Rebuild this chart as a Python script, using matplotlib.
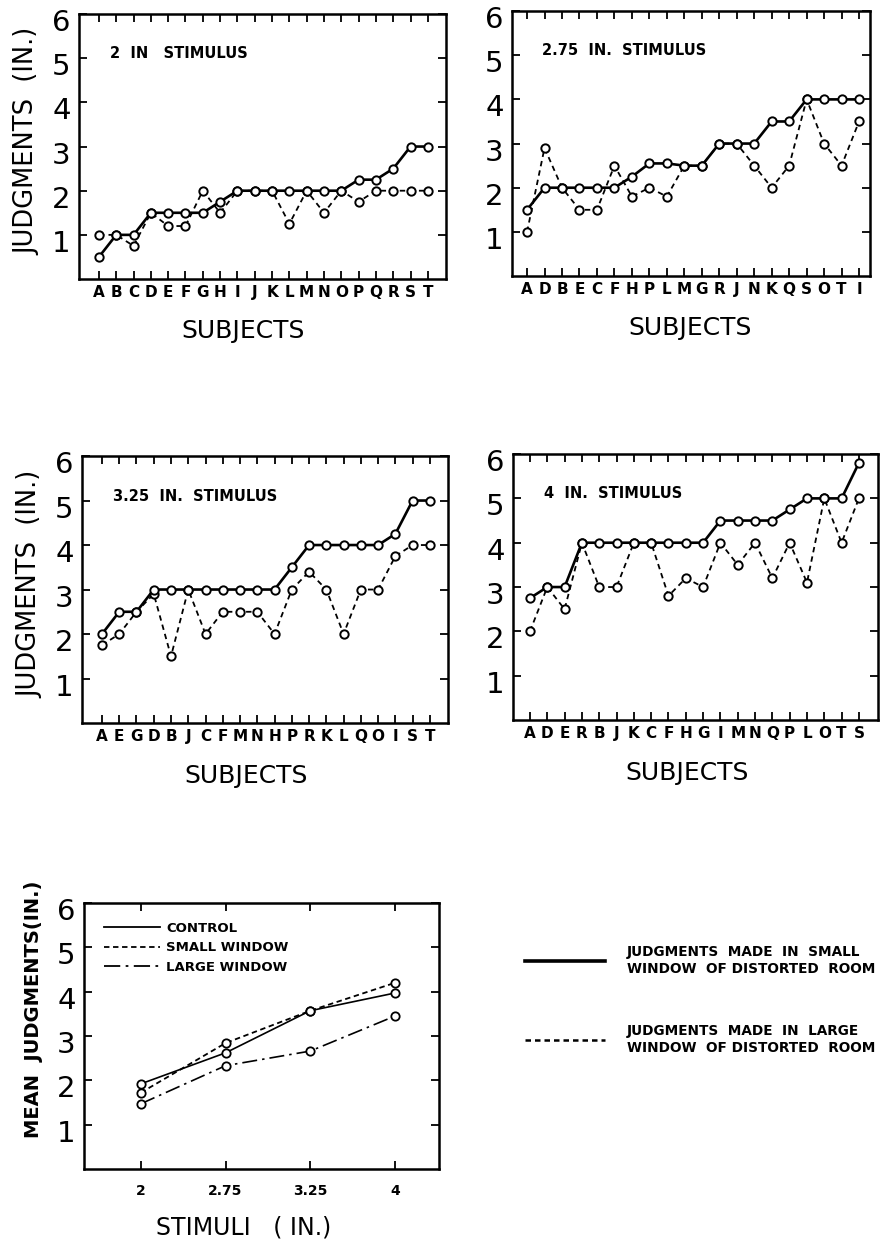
import matplotlib
matplotlib.use("Agg")
import matplotlib.pyplot as plt
import matplotlib.transforms as mtransforms
from matplotlib.lines import Line2D
import numpy as np

plt.rcParams["font.family"] = ["DejaVu Sans"]

# judgments (in.) per subject, ordered as on the x axis
subjects_2 = list("ABCDEFGHIJKLMNOPQRST")
small_2 = [0.5, 1.0, 1.0, 1.5, 1.5, 1.5, 1.5, 1.75, 2.0, 2.0, 2.0, 2.0, 2.0, 2.0, 2.0, 2.25, 2.25, 2.5, 3.0, 3.0]
large_2 = [1.0, 1.0, 0.75, 1.5, 1.2, 1.2, 2.0, 1.5, 2.0, 2.0, 2.0, 1.25, 2.0, 1.5, 2.0, 1.75, 2.0, 2.0, 2.0, 2.0]

subjects_275 = "A D B E C F H P L M G R J N K Q S O T I".split()
small_275 = [1.5, 2.0, 2.0, 2.0, 2.0, 2.0, 2.25, 2.55, 2.55, 2.5, 2.5, 3.0, 3.0, 3.0, 3.5, 3.5, 4.0, 4.0, 4.0, 4.0]
large_275 = [1.0, 2.9, 2.0, 1.5, 1.5, 2.5, 1.8, 2.0, 1.8, 2.5, 2.5, 3.0, 3.0, 2.5, 2.0, 2.5, 4.0, 3.0, 2.5, 3.5]

subjects_325 = "A E G D B J C F M N H P R K L Q O I S T".split()
small_325 = [2.0, 2.5, 2.5, 3.0, 3.0, 3.0, 3.0, 3.0, 3.0, 3.0, 3.0, 3.5, 4.0, 4.0, 4.0, 4.0, 4.0, 4.25, 5.0, 5.0]
large_325 = [1.75, 2.0, 2.5, 2.9, 1.5, 3.0, 2.0, 2.5, 2.5, 2.5, 2.0, 3.0, 3.4, 3.0, 2.0, 3.0, 3.0, 3.75, 4.0, 4.0]

subjects_4 = "A D E R B J K C F H G I M N Q P L O T S".split()
small_4 = [2.75, 3.0, 3.0, 4.0, 4.0, 4.0, 4.0, 4.0, 4.0, 4.0, 4.0, 4.5, 4.5, 4.5, 4.5, 4.75, 5.0, 5.0, 5.0, 5.8]
large_4 = [2.0, 3.0, 2.5, 4.0, 3.0, 3.0, 4.0, 4.0, 2.8, 3.2, 3.0, 4.0, 3.5, 4.0, 3.2, 4.0, 3.1, 5.0, 4.0, 5.0]

# mean judgments
stimuli = ["2", "2.75", "3.25", "4"]
control = [1.92, 2.62, 3.57, 3.97]
small_window = [1.72, 2.84, 3.57, 4.2]
large_window = [1.47, 2.33, 2.66, 3.45]

yticks = [1, 2, 3, 4, 5, 6]

fig = plt.figure(figsize=(8.88, 12.44), dpi=100)
label_shift = mtransforms.ScaledTranslation(0, -0.06, fig.dpi_scale_trans)


def style_axes(ax):
    ax.set_ylim(0, 6)
    ax.set_yticks(yticks)
    ax.set_yticklabels([str(v) for v in yticks], fontsize=21)
    ax.tick_params(direction="in", top=True, right=True, length=6, width=1.3)
    ax.tick_params(axis="y", pad=6)
    for lab in ax.get_yticklabels():
        lab.set_transform(lab.get_transform() + label_shift)
    for s in ax.spines.values():
        s.set_linewidth(1.8)


def subject_panel(rect, subjects, small, large, title, xlim, xlab_pos, ylabel=False):
    ax = fig.add_axes(rect)
    x = np.arange(len(subjects))
    ax.plot(x, large, color="black", lw=1.3, ls=(0, (3, 2.3)),
            marker="o", ms=6, mfc="white", mec="black", mew=1.4)
    ax.plot(x, small, color="black", lw=1.9, ls="-",
            marker="o", ms=6, mfc="white", mec="black", mew=1.4)
    style_axes(ax)
    ax.set_xlim(*xlim)
    ax.set_xticks(x)
    ax.set_xticklabels(subjects, fontsize=11, fontweight="bold")
    ax.tick_params(axis="x", pad=4)
    ax.text(0.085, 0.85, title, transform=ax.transAxes, fontsize=10.5,
            fontweight="bold", ha="left", va="center")
    ax.set_xlabel("SUBJECTS", fontsize=18)
    ax.xaxis.set_label_coords(*xlab_pos)
    if ylabel:
        ax.set_ylabel("JUDGMENTS  (IN.)", fontsize=18.5)
        ax.yaxis.set_label_coords(-0.105, 0.52)
    return ax


subject_panel([0.0890, 0.7757, 0.4133, 0.2130], subjects_2, small_2, large_2,
              "2  IN   STIMULUS", (-1.15, 20.05), (0.447, -0.15), ylabel=True)
subject_panel([0.5766, 0.7781, 0.4032, 0.2130], subjects_275, small_275, large_275,
              "2.75  IN.  STIMULUS", (-0.86, 19.63), (0.497, -0.15))
subject_panel([0.0923, 0.4188, 0.4122, 0.2146], subjects_325, small_325, large_325,
              "3.25  IN.  STIMULUS", (-1.16, 20.05), (0.447, -0.155), ylabel=True)
subject_panel([0.5777, 0.4212, 0.4110, 0.2138], subjects_4, small_4, large_4,
              "4  IN.  STIMULUS", (-0.98, 20.1), (0.478, -0.155))

# mean judgments panel
ax5 = fig.add_axes([0.0946, 0.0603, 0.3998, 0.2138])
xs = np.arange(len(stimuli))
styles = {"CONTROL": "-", "SMALL WINDOW": (0, (3, 2)), "LARGE WINDOW": (0, (9, 3, 1.5, 3))}
ax5.plot(xs, control, color="black", lw=1.2, ls=styles["CONTROL"],
         marker="o", ms=6, mfc="white", mec="black", mew=1.3)
ax5.plot(xs, small_window, color="black", lw=1.3, ls=styles["SMALL WINDOW"],
         marker="o", ms=6, mfc="white", mec="black", mew=1.3)
ax5.plot(xs, large_window, color="black", lw=1.2, ls=styles["LARGE WINDOW"],
         marker="o", ms=6, mfc="white", mec="black", mew=1.3)
style_axes(ax5)
ax5.set_xlim(-0.67, 3.52)
ax5.set_xticks(xs)
ax5.set_xticklabels(stimuli, fontsize=10, fontweight="bold")
ax5.tick_params(axis="x", pad=11)
ax5.set_ylabel("MEAN  JUDGMENTS(IN.)", fontsize=14, fontweight="bold")
ax5.yaxis.set_label_coords(-0.115, 0.6)
ax5.set_xlabel("STIMULI   ( IN.)", fontsize=17)
ax5.xaxis.set_label_coords(0.45, -0.175)
key5 = [Line2D([], [], color="black", lw=1.3, ls=ls) for ls in styles.values()]
ax5.legend(key5, list(styles.keys()), loc="upper left", bbox_to_anchor=(0.055, 0.93),
           frameon=False, handlelength=4.3, handletextpad=0.45, labelspacing=0.5,
           borderpad=0, borderaxespad=0, prop={"weight": "bold", "size": 9.5})

# key to line styles
handles = [Line2D([], [], color="black", lw=2.6, ls="-"),
           Line2D([], [], color="black", lw=1.8, ls=(0, (2.2, 1.6)))]
labels = ["JUDGMENTS  MADE  IN  SMALL\nWINDOW  OF DISTORTED  ROOM",
          "JUDGMENTS  MADE  IN  LARGE\nWINDOW  OF DISTORTED  ROOM"]
leg = fig.legend(handles, labels, loc="upper left", bbox_to_anchor=(525 / 888, 1 - 945 / 1244),
                 frameon=False, prop={"weight": "bold", "size": 9.8}, handlelength=5.9,
                 handletextpad=1.6, labelspacing=3.5, borderpad=0, borderaxespad=0)
for t in leg.get_texts():
    t.set_linespacing(1.3)

fig.savefig("out.png", dpi=100)
